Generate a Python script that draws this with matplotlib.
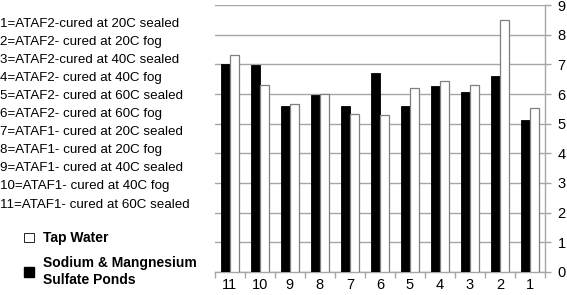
import numpy as np
import matplotlib.pyplot as plt
from matplotlib.patches import Patch

# =========================
# Data
# =========================
categories = ["11", "10", "9", "8", "7", "6", "5", "4", "3", "2", "1"]
sulfate = [7.02, 6.98, 5.60, 5.95, 5.60, 6.70, 5.60, 6.28, 6.08, 6.62, 5.12]
tap_water = [7.33, 6.30, 5.67, 5.99, 5.33, 5.30, 6.20, 6.43, 6.30, 8.50, 5.52]

key_lines = [
    "1=ATAF2-cured at 20C sealed",
    "2=ATAF2- cured at 20C fog",
    "3=ATAF2-cured at 40C sealed",
    "4=ATAF2- cured at 40C fog",
    "5=ATAF2- cured at 60C sealed",
    "6=ATAF2- cured at 60C fog",
    "7=ATAF1- cured at 20C sealed",
    "8=ATAF1- cured at 20C fog",
    "9=ATAF1- cured at 40C sealed",
    "10=ATAF1- cured at 40C fog",
    "11=ATAF1- cured at 60C sealed",
]

plt.rcParams.update({
    "font.family": "Liberation Sans",
    "font.size": 9.5,
})

grid_c = "#a6a6a6"

fig = plt.figure(figsize=(5.67, 2.95), dpi=100)
ax = fig.add_axes([0.379, 0.078, 0.582, 0.905])

x = np.arange(len(categories))
w = 0.3
ax.bar(x - w / 2, sulfate, width=w, color="black", edgecolor="black", linewidth=0.6, zorder=3)
ax.bar(x + w / 2, tap_water, width=w, color="white", edgecolor="#7f7f7f", linewidth=0.9, zorder=3)

ax.set_xlim(-0.5, len(categories) - 0.5)
ax.set_ylim(0, 9)
ax.set_yticks(range(10))
ax.yaxis.tick_right()
ax.grid(axis="y", color=grid_c, linewidth=1.0, zorder=0)

# category labels at centers, ticks at boundaries
ax.set_xticks(x)
ax.set_xticklabels(categories, fontsize=10.5)
ax.tick_params(axis="x", length=0, pad=4)
ax.set_xticks(np.arange(len(categories) + 1) - 0.5, minor=True)
ax.tick_params(axis="x", which="minor", length=4, color=grid_c, width=1.0)
ax.tick_params(axis="y", length=4, color=grid_c, width=1.0, labelsize=10.5, pad=5)

for s in ["left", "top"]:
    ax.spines[s].set_visible(False)
ax.spines["right"].set_color(grid_c)
ax.spines["bottom"].set_color(grid_c)
ax.spines["right"].set_linewidth(1.0)
ax.spines["bottom"].set_linewidth(1.0)

# key text on the left
y0 = 1 - 24 / 295
dy = 18.05 / 295
for i, line in enumerate(key_lines):
    fig.text(0.0, y0 - i * dy, line, fontsize=9.6, va="center", ha="left")

leg = fig.legend(
    handles=[
        Patch(facecolor="white", edgecolor="black", linewidth=0.6, label="Tap Water"),
        Patch(facecolor="black", edgecolor="black", label="Sodium & Mangnesium\nSulfate Ponds"),
    ],
    loc="upper left",
    bbox_to_anchor=(0.03, 0.239),
    frameon=False,
    prop={"weight": "bold", "size": 10},
    handlelength=0.7,
    handleheight=0.7,
    handletextpad=0.7,
    labelspacing=0.75,
    borderpad=0,
)
leg.get_texts()[1].set_linespacing(1.3)

fig.savefig("out.png", dpi=100)
